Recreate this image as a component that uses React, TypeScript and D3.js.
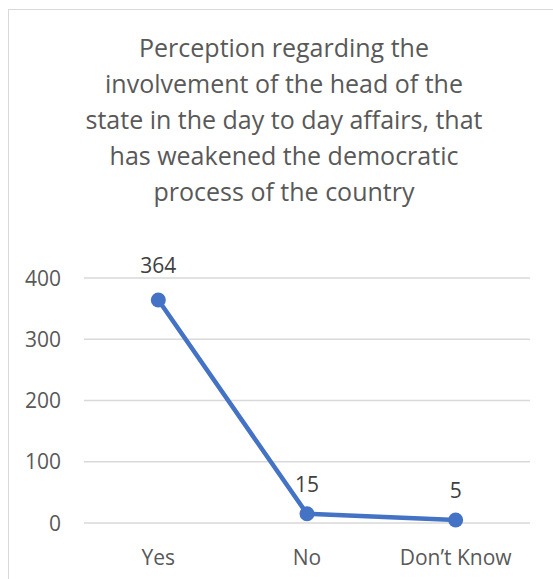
import React from "react";
import * as d3 from "d3";

const categories = ["Yes", "No", "Don\u2019t Know"];
const values = [364, 15, 5];
const yTicks = [0, 100, 200, 300, 400];
const titleLines = [
  "Perception regarding the",
  "involvement of the head of the",
  "state in the day to day affairs, that",
  "has weakened the democratic",
  "process of the country",
];

export default function App() {
  const W = 553, H = 579;
  const left = 84, right = 530, top = 278, bottom = 523;
  const x = d3.scaleBand<string>().domain(categories).range([left, right]);
  const y = d3.scaleLinear().domain([0, 400]).range([bottom, top]);
  const pts = categories.map((c, i) => [x(c)! + x.bandwidth() / 2, y(values[i])] as [number, number]);
  const line = d3.line()(pts) || "";
  const font = "'Open Sans', 'Noto Sans', sans-serif";
  const textColor = "#595959";
  return (
    <svg width={W} height={H} style={{ position: "absolute", left: 0, top: 0, background: "#fff" }}>
      <rect x={8.5} y={9.5} width={W + 20} height={H + 20} fill="#fff" stroke="#d9d9d9" strokeWidth={1} />
      {titleLines.map((t, i) => (
        <text key={i} x={284} y={57 + i * 36} textAnchor="middle" fontFamily={font} fontSize={25} fill={textColor}>
          {t}
        </text>
      ))}
      {yTicks.map((v) => (
        <g key={v}>
          <line x1={left} x2={right} y1={y(v)} y2={y(v)} stroke="#d9d9d9" strokeWidth={1.3} />
          <text x={61} y={y(v) + 7.5} textAnchor="end" fontFamily={font} fontSize={21} fill={textColor}>
            {v}
          </text>
        </g>
      ))}
      {categories.map((c) => (
        <text key={c} x={x(c)! + x.bandwidth() / 2} y={565} textAnchor="middle" fontFamily={font} fontSize={21} fill={textColor}>
          {c}
        </text>
      ))}
      <path d={line} fill="none" stroke="#4472C4" strokeWidth={4.5} strokeLinejoin="round" />
      {pts.map((p, i) => (
        <circle key={i} cx={p[0]} cy={p[1]} r={7.5} fill="#4472C4" />
      ))}
      {pts.map((p, i) => (
        <text key={"l" + i} x={p[0]} y={p[1] - (i === 0 ? 27 : 22)} textAnchor="middle" fontFamily={font} fontSize={21} fill="#404040">
          {values[i]}
        </text>
      ))}
    </svg>
  );
}
